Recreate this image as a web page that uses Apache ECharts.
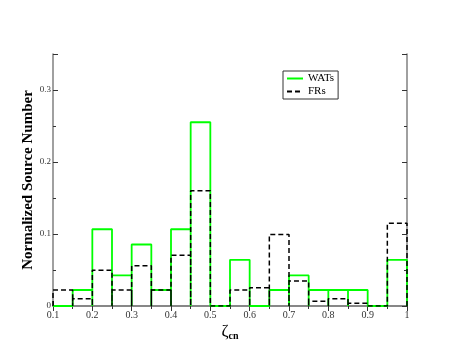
<!DOCTYPE html>
<html>
<head>
<meta charset="utf-8">
<script src="https://cdn.jsdelivr.net/npm/echarts@6/dist/echarts.min.js"></script>
<style>
  html, body { margin: 0; padding: 0; background: #fff; }
  #container { width: 458px; height: 360px; }
</style>
</head>
<body>
<div id="container"></div>
<script>
// bin edges (left edge of each bin), width 0.05
var binStarts = [0.10, 0.15, 0.20, 0.25, 0.30, 0.35, 0.40, 0.45, 0.50, 0.55,
                 0.60, 0.65, 0.70, 0.75, 0.80, 0.85, 0.90, 0.95];
var binWidth = 0.05;
var wats = [0, 0.0222, 0.1066, 0.0425, 0.0854, 0.0222, 0.1066, 0.2552, 0, 0.0641,
            0, 0.0222, 0.0425, 0.0222, 0.0222, 0.0222, 0, 0.0641];
var frs = [0.0222, 0.0102, 0.0498, 0.0222, 0.0558, 0.0222, 0.0706, 0.1600, 0, 0.0222,
           0.0254, 0.0992, 0.0346, 0.0065, 0.0102, 0.0037, 0, 0.1150];
var seriesNames = ['WATs', 'FRs'];

// outline of histogram bars: each bin drawn as a box down to zero
function outline(values) {
    var pts = [];
    for (var i = 0; i < values.length; i++) {
        var x0 = binStarts[i], x1 = +(x0 + binWidth).toFixed(2);
        pts.push([x0, 0], [x0, values[i]], [x1, values[i]], [x1, 0]);
    }
    return pts;
}

var dom = document.getElementById('container');
var myChart = echarts.init(dom, null, { renderer: 'canvas' });
var serif = 'Liberation Serif';
var frameColor = '#808080';

var option = {
    animation: false,
    grid: { left: 53, right: 51, top: 54, bottom: 54 },
    legend: {
        orient: 'vertical',
        left: 283,
        top: 71,
        itemWidth: 16,
        itemHeight: 10,
        itemGap: 2,
        padding: [2, 4, 2, 3],
        borderColor: '#333',
        borderWidth: 1,
        itemStyle: { opacity: 0 },
        textStyle: { fontFamily: serif, fontSize: 11, color: '#000', padding: [0, 0, 0, 0] },
        data: seriesNames
    },
    xAxis: [{
        type: 'value',
        min: 0.1,
        max: 1,
        interval: 0.1,
        name: '{z|ζ}{s|cn}',
        nameLocation: 'middle',
        nameMoveOverlap: false,
        nameGap: 16,
        nameTextStyle: {
            rich: {
                z: { fontFamily: serif, fontSize: 17, color: '#000' },
                s: { fontFamily: serif, fontSize: 10, fontWeight: 'bold', color: '#000', padding: [9, 0, 0, 0] }
            }
        },
        axisLine: { lineStyle: { color: frameColor, width: 1.5 } },
        axisTick: { inside: true, length: 5, lineStyle: { color: '#333' } },
        minorTick: { show: true, splitNumber: 2, length: 3, lineStyle: { color: '#333' } },
        splitLine: { show: false },
        axisLabel: { fontFamily: serif, fontSize: 10, color: '#333', margin: 4 }
    }, {
        type: 'value',
        position: 'top',
        min: 0.1,
        max: 1,
        interval: 0.1,
        axisLine: { show: true, lineStyle: { color: frameColor, width: 1.5 } },
        axisTick: { inside: true, length: 5, lineStyle: { color: '#333' } },
        minorTick: { show: true, splitNumber: 2, length: 3, lineStyle: { color: '#333' } },
        splitLine: { show: false },
        axisLabel: { show: false }
    }],
    yAxis: [{
        type: 'value',
        min: 0,
        max: 0.35,
        interval: 0.1,
        name: 'Normalized Source Number',
        nameLocation: 'middle',
        nameMoveOverlap: false,
        nameGap: 17,
        nameTextStyle: { fontFamily: serif, fontSize: 15, fontWeight: 'bold', color: '#000' },
        axisLine: { show: true, lineStyle: { color: frameColor, width: 1.5 } },
        axisTick: { inside: true, length: 5, lineStyle: { color: '#333' } },
        minorTick: { show: true, splitNumber: 2, length: 3, lineStyle: { color: '#333' } },
        splitLine: { show: false },
        axisLabel: { fontFamily: serif, fontSize: 9, color: '#333', margin: 2, showMaxLabel: false }
    }, {
        type: 'value',
        position: 'right',
        min: 0,
        max: 0.35,
        interval: 0.1,
        axisLine: { show: true, lineStyle: { color: frameColor, width: 1.5 } },
        axisTick: { inside: true, length: 5, lineStyle: { color: '#333' } },
        minorTick: { show: true, splitNumber: 2, length: 3, lineStyle: { color: '#333' } },
        splitLine: { show: false },
        axisLabel: { show: false }
    }],
    series: [{
        name: seriesNames[0],
        type: 'line',
        symbol: 'none',
        data: outline(wats),
        lineStyle: { color: '#00ff00', width: 1.8 },
        itemStyle: { color: '#00ff00' },
        z: 3
    }, {
        name: seriesNames[1],
        type: 'line',
        symbol: 'none',
        data: outline(frs),
        lineStyle: { color: '#000', width: 1.5, type: [5, 3] },
        itemStyle: { color: '#000' },
        z: 4
    }]
};

myChart.setOption(option);
window.addEventListener('resize', myChart.resize);
</script>
</body>
</html>
